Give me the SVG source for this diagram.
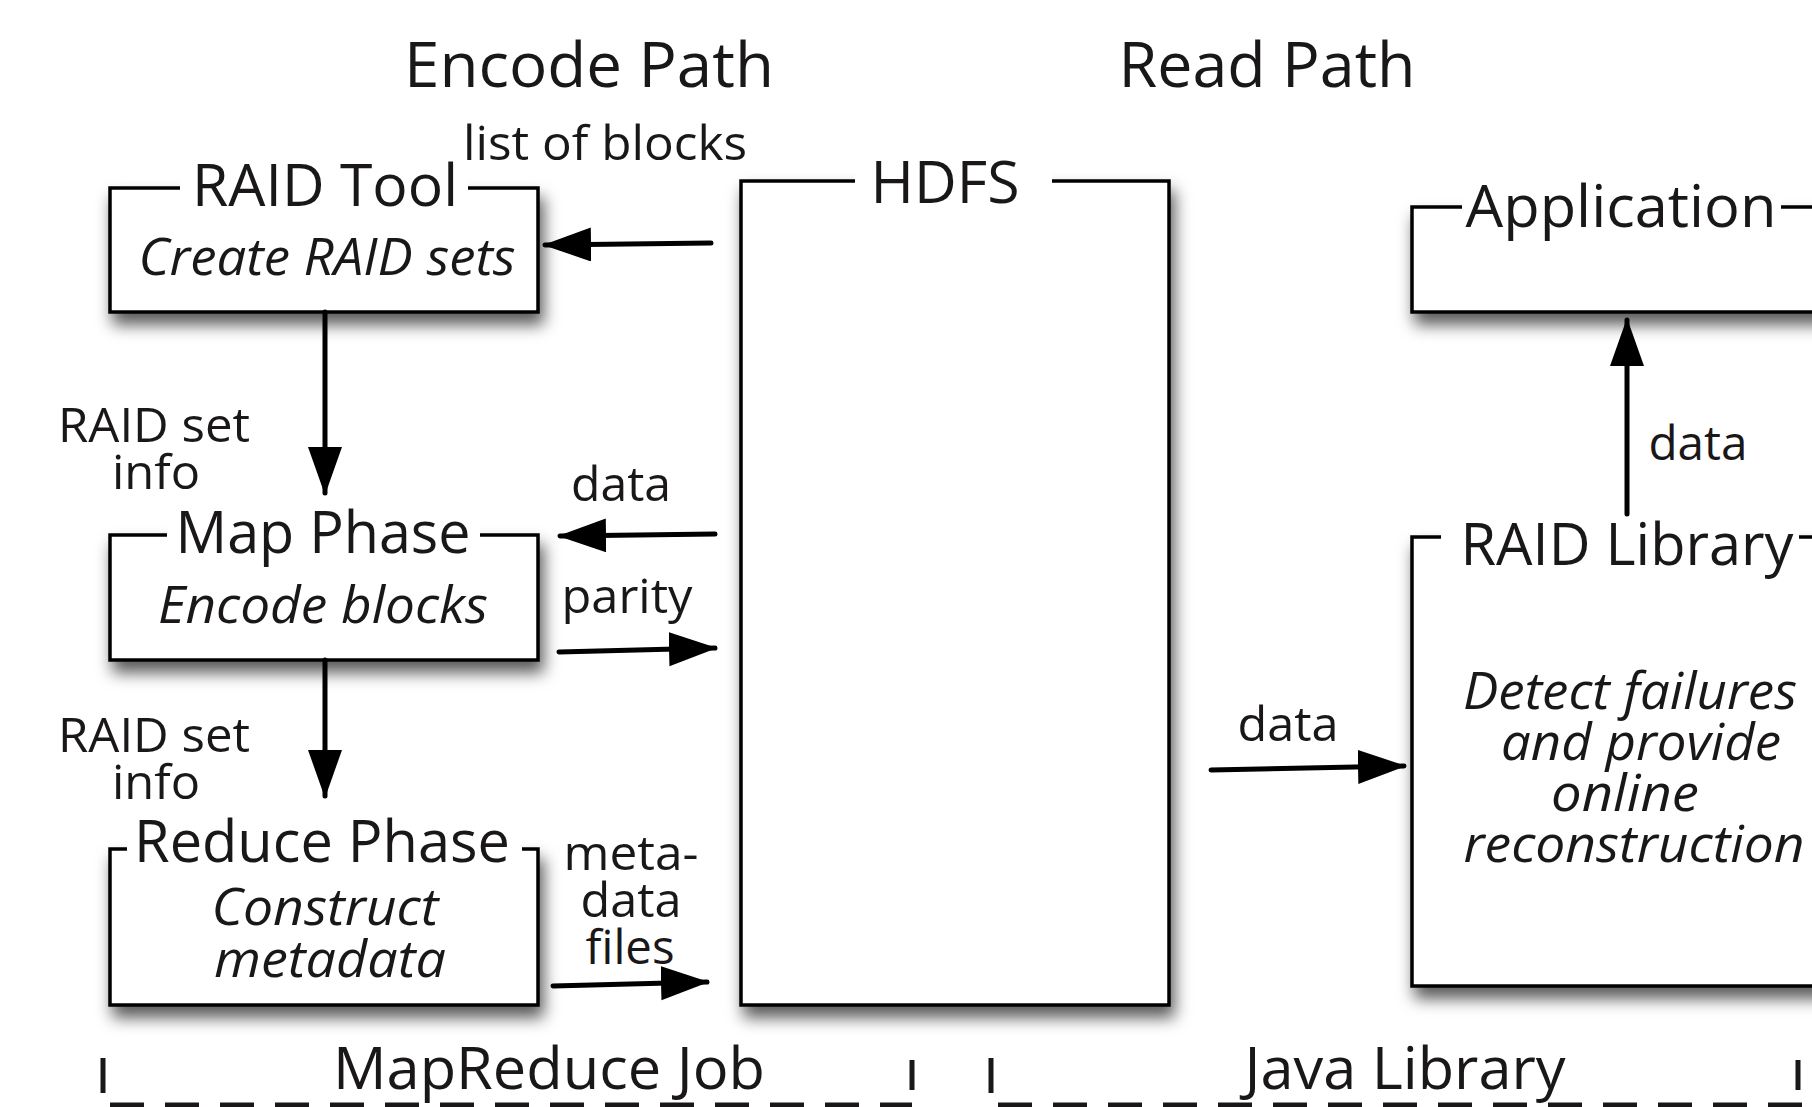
<svg xmlns="http://www.w3.org/2000/svg" width="1812" height="1107" viewBox="0 0 1812 1107">
  <defs>
    <filter id="shadow" x="-10%" y="-10%" width="130%" height="140%">
      <feDropShadow dx="4" dy="11" stdDeviation="8" flood-color="#000" flood-opacity="0.65"/>
    </filter>
    <marker id="head" markerUnits="userSpaceOnUse" markerWidth="50" markerHeight="36" refX="46" refY="17" orient="auto">
      <path d="M0,0 L48,17 L0,34 Z" fill="#000"/>
    </marker>
    <style>
      text { font-family: "Open Sans", "Noto Sans", "Liberation Sans", sans-serif; fill: #1a1718; }
      .title { font-size: 62px; text-anchor: middle; }
      .label { font-size: 59px; text-anchor: middle; }
      .small { font-size: 48px; text-anchor: middle; }
      .body { font-size: 52px; font-style: italic; text-anchor: middle; }
      .foot { font-size: 58px; text-anchor: middle; }
      .box { fill: #fff; stroke: #000; stroke-width: 3.5; filter: url(#shadow); }
      .gap { fill: #fff; }
      .arrow { stroke: #000; stroke-width: 5; stroke-linecap: round; fill: none; marker-end: url(#head); }
      .tick { stroke: #1a1718; stroke-width: 5; }
      .dash { stroke: #1a1718; stroke-width: 9; stroke-dasharray: 34 21; }
    </style>
  </defs>

  <rect width="1812" height="1107" fill="#fff"/>

  <!-- column headings -->
  <text class="title" x="589" y="87" textLength="370" lengthAdjust="spacingAndGlyphs">Encode Path</text>
  <text class="title" x="1267" y="87" textLength="297" lengthAdjust="spacingAndGlyphs">Read Path</text>

  <!-- encode side -->
  <g id="raid-tool">
    <rect class="box" x="110" y="188" width="428" height="124"/>
    <rect class="gap" x="180" y="176" width="288" height="22" rx="8"/>
    <text class="label" x="325" y="206" textLength="266" lengthAdjust="spacingAndGlyphs">RAID Tool</text>
    <text class="body" x="327" y="275" textLength="377" lengthAdjust="spacingAndGlyphs">Create RAID sets</text>
  </g>

  <g id="map-phase">
    <rect class="box" x="110" y="535" width="428" height="125"/>
    <rect class="gap" x="167" y="523" width="313" height="22" rx="8"/>
    <text class="label" x="323" y="553" textLength="295" lengthAdjust="spacingAndGlyphs">Map Phase</text>
    <text class="body" x="323" y="623" textLength="330" lengthAdjust="spacingAndGlyphs">Encode blocks</text>
  </g>

  <g id="reduce-phase">
    <rect class="box" x="110" y="849" width="428" height="156"/>
    <rect class="gap" x="127" y="837" width="395" height="22" rx="8"/>
    <text class="label" x="322" y="862" textLength="376" lengthAdjust="spacingAndGlyphs">Reduce Phase</text>
    <text class="body" x="325" y="925" textLength="227" lengthAdjust="spacingAndGlyphs">Construct</text>
    <text class="body" x="330" y="977" textLength="232" lengthAdjust="spacingAndGlyphs">metadata</text>
  </g>

  <g id="hdfs">
    <rect class="box" x="741" y="181" width="428" height="824"/>
    <rect class="gap" x="855" y="169" width="197" height="22" rx="8"/>
    <text class="label" x="945" y="203" textLength="149" lengthAdjust="spacingAndGlyphs">HDFS</text>
  </g>

  <!-- read side -->
  <g id="application">
    <rect class="box" x="1412" y="207" width="460" height="105"/>
    <rect class="gap" x="1462" y="195" width="319" height="22" rx="8"/>
    <text class="label" x="1621" y="227" textLength="311" lengthAdjust="spacingAndGlyphs">Application</text>
  </g>

  <g id="raid-library">
    <rect class="box" x="1412" y="537" width="460" height="449"/>
    <rect class="gap" x="1441" y="525" width="358" height="22" rx="8"/>
    <text class="label" x="1627" y="565" textLength="333" lengthAdjust="spacingAndGlyphs">RAID Library</text>
    <text class="body" x="1630" y="709" textLength="334" lengthAdjust="spacingAndGlyphs">Detect failures</text>
    <text class="body" x="1641" y="760" textLength="280" lengthAdjust="spacingAndGlyphs">and provide</text>
    <text class="body" x="1625" y="811" textLength="148" lengthAdjust="spacingAndGlyphs">online</text>
    <text class="body" x="1634" y="862" textLength="341" lengthAdjust="spacingAndGlyphs">reconstruction</text>
  </g>

  <!-- connectors and their labels -->
  <g id="connectors">
    <line class="arrow" x1="711" y1="243" x2="545" y2="245"/>
    <line class="arrow" x1="325" y1="312" x2="325" y2="493"/>
    <line class="arrow" x1="715" y1="534" x2="560" y2="536"/>
    <line class="arrow" x1="559" y1="652" x2="715" y2="648"/>
    <line class="arrow" x1="325" y1="660" x2="325" y2="796"/>
    <line class="arrow" x1="553" y1="986" x2="707" y2="982"/>
    <line class="arrow" x1="1211" y1="770" x2="1404" y2="766"/>
    <line class="arrow" x1="1627" y1="514" x2="1627" y2="320"/>

    <text class="small" x="605" y="160" textLength="284" lengthAdjust="spacingAndGlyphs">list of blocks</text>
    <text class="small" x="154" y="442" textLength="192" lengthAdjust="spacingAndGlyphs">RAID set</text>
    <text class="small" x="156" y="489" textLength="88" lengthAdjust="spacingAndGlyphs">info</text>
    <text class="small" x="621" y="501" textLength="100" lengthAdjust="spacingAndGlyphs">data</text>
    <text class="small" x="627" y="613" textLength="131" lengthAdjust="spacingAndGlyphs">parity</text>
    <text class="small" x="154" y="752" textLength="192" lengthAdjust="spacingAndGlyphs">RAID set</text>
    <text class="small" x="156" y="799" textLength="88" lengthAdjust="spacingAndGlyphs">info</text>
    <text class="small" x="631" y="870" textLength="135" lengthAdjust="spacingAndGlyphs">meta-</text>
    <text class="small" x="631" y="917" textLength="101" lengthAdjust="spacingAndGlyphs">data</text>
    <text class="small" x="630" y="964" textLength="89" lengthAdjust="spacingAndGlyphs">files</text>
    <text class="small" x="1288" y="741" textLength="101" lengthAdjust="spacingAndGlyphs">data</text>
    <text class="small" x="1698" y="460" textLength="99" lengthAdjust="spacingAndGlyphs">data</text>
  </g>

  <!-- bottom brackets -->
  <g id="mapreduce-job">
    <line class="tick" x1="103" y1="1058" x2="103" y2="1093"/>
    <line class="tick" x1="912" y1="1060" x2="912" y2="1090"/>
    <line class="dash" x1="110" y1="1107" x2="912" y2="1107"/>
    <text class="foot" x="549" y="1089" textLength="432" lengthAdjust="spacingAndGlyphs">MapReduce Job</text>
  </g>
  <g id="java-library">
    <line class="tick" x1="991" y1="1058" x2="991" y2="1093"/>
    <line class="tick" x1="1798" y1="1060" x2="1798" y2="1090"/>
    <line class="dash" x1="998" y1="1107" x2="1802" y2="1107"/>
    <text class="foot" x="1405" y="1089" textLength="321" lengthAdjust="spacingAndGlyphs">Java Library</text>
  </g>
</svg>
